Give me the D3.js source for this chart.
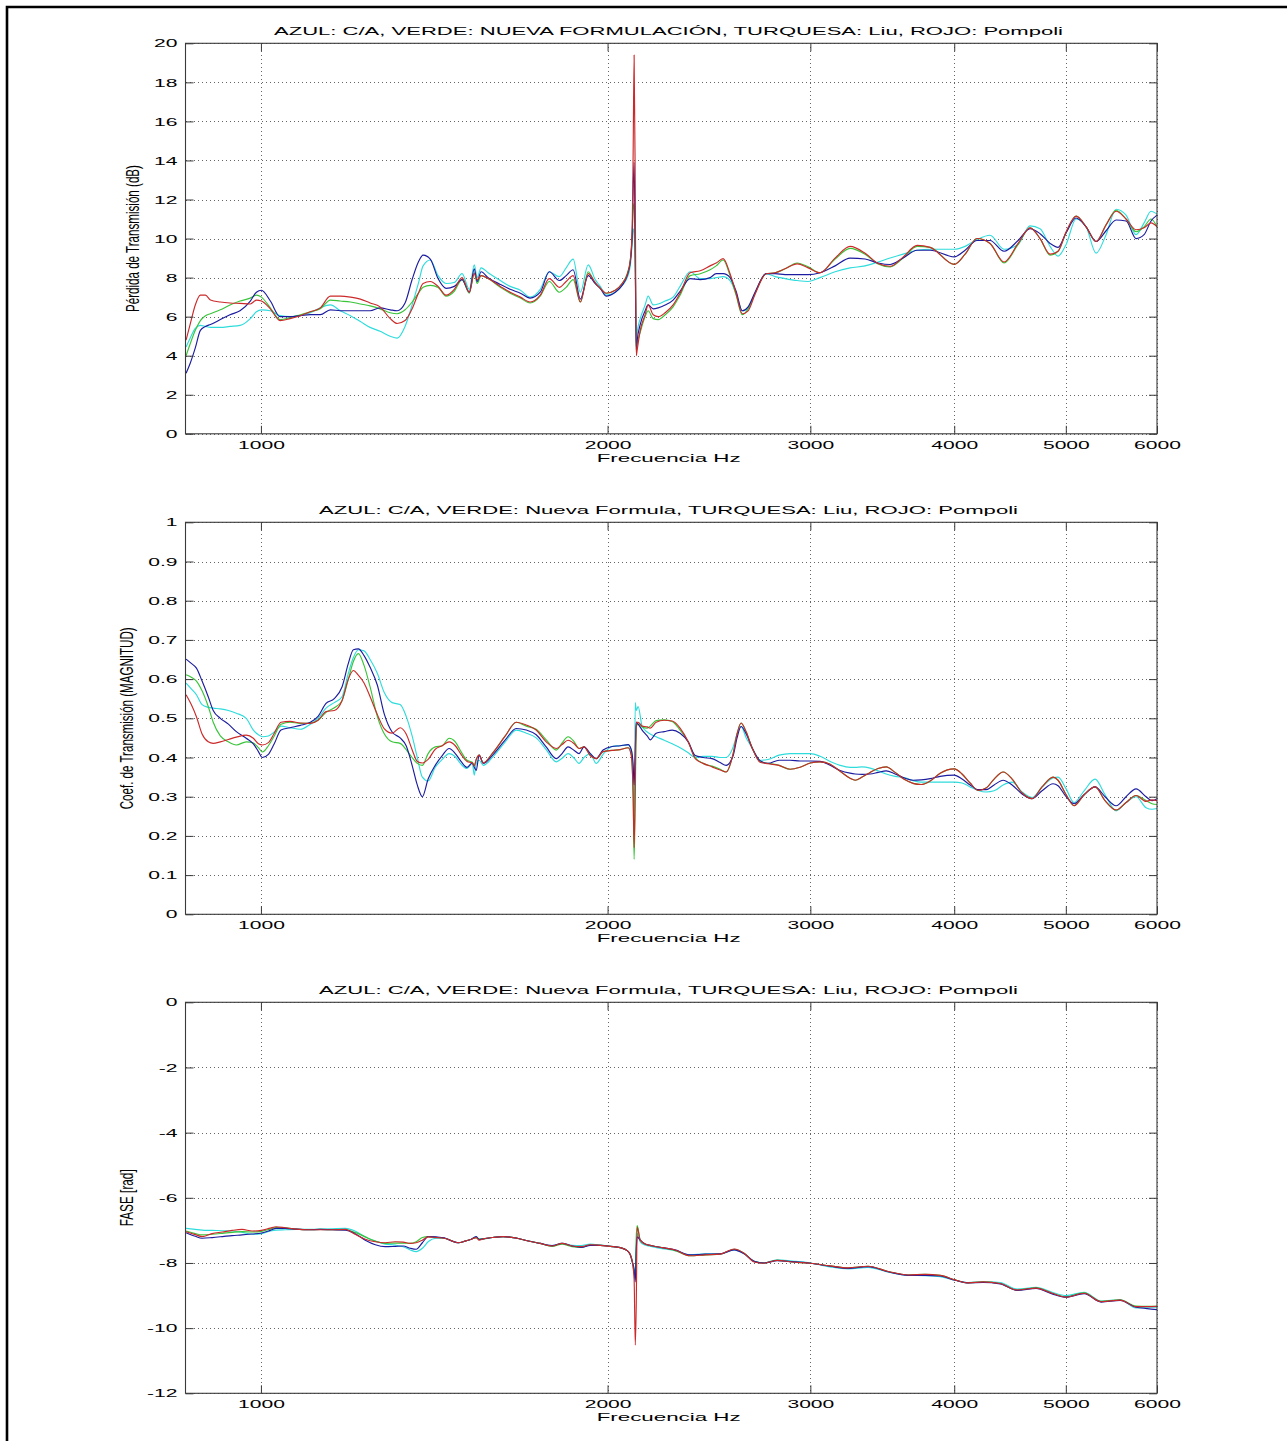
<!DOCTYPE html>
<html><head><meta charset="utf-8">
<script src="https://cdn.jsdelivr.net/npm/d3@7"></script>
<style>body{margin:0;background:#fff}svg{display:block}</style>
</head><body><svg id="c" width="1287" height="1441"></svg>
<script>
// ---------------- DATA ----------------
const titles = [
  "AZUL: C/A, VERDE: NUEVA FORMULACIÓN, TURQUESA: Liu, ROJO: Pompoli",
  "AZUL: C/A, VERDE: Nueva Formula, TURQUESA: Liu, ROJO: Pompoli",
  "AZUL: C/A, VERDE: Nueva Formula, TURQUESA: Liu, ROJO: Pompoli"
];
const yLabels = ["Pérdida de Transmisión (dB)", "Coef. de Transmisión (MAGNITUD)", "FASE [rad]"];
const xLabel = "Frecuencia Hz";
const xTicks = [1000, 2000, 3000, 4000, 5000, 6000];
const tlTicks = [0, 2, 4, 6, 8, 10, 12, 14, 16, 18, 20];
const magTicks = [0, 0.1, 0.2, 0.3, 0.4, 0.5, 0.6, 0.7, 0.8, 0.9, 1];
const phTicks = [-12, -10, -8, -6, -4, -2, 0];

// Panel 1: Pérdida de Transmisión (dB)
const freqTL = [861,868,877,886,895,904,922,940,959,979,991,1001,
1019,1039,1060,1082,1104,1126,1149,1172,1196,1220,1244,1269,1295,
1313,1334,1353,1370,1383,1403,1425,1448,1472,1495,1517,1532,1541,1553,1575,
1614,1646,1680,1713,1748,1780,1816,1841,1867,1894,1924,1951,1971,1994,
2031,2059,2080,2093,2101,2105,2109,2114,2118,2122,
2135,2156,2169,2191,2213,2244,2280,
2312,2359,2407,2455,2485,2520,2555,2586,2618,2649,2686,2746,2796,2852,2922,2987,3059,
3152,3248,3347,3435,3519,3611,3714,3812,4000,4088,4187,4297,4419,4545,4655,4749,4845,4923,5003,5104,5207,5312,5419,5529,5640,5754,5847,5929,6000];
const tlBlue = [3.1,3.6,4.4,5.3,5.5,5.6,5.85,6.1,6.3,6.8,7.25,7.35,
6.8,6.0,6.0,6.05,6.1,6.1,6.35,6.3,6.3,6.3,6.3,6.45,6.35,
6.3,6.7,7.9,8.8,9.15,8.95,7.95,7.45,7.55,7.9,7.25,8.45,7.8,8.3,8.0,
7.65,7.4,7.2,6.95,7.25,8.3,7.85,8.1,8.4,6.9,8.1,7.7,7.45,7.05,
7.25,7.6,8.1,8.8,10.2,12.5,13.9,9.0,4.3,4.8,
5.6,6.3,6.6,6.4,6.45,6.6,6.85,
7.3,7.95,7.9,8.0,8.2,8.2,8.0,7.3,6.3,6.5,7.25,8.2,8.2,8.15,8.15,8.15,8.25,
8.6,9.0,8.95,8.75,8.67,9.0,9.4,9.4,9.06,9.4,9.9,9.9,9.35,9.9,10.5,10.25,9.75,9.55,10.3,11.05,10.6,9.85,10.4,10.95,10.9,10.0,10.2,10.9,11.2];
const tlGreen = [4.0,4.6,5.3,5.8,6.05,6.15,6.35,6.6,6.8,6.95,7.1,7.0,
6.45,5.85,5.95,6.1,6.25,6.4,6.85,6.8,6.75,6.65,6.55,6.4,6.2,
6.15,6.35,6.75,7.2,7.5,7.6,7.5,7.05,7.3,7.9,7.2,8.25,7.7,8.1,7.95,
7.5,7.2,6.95,6.7,7.05,7.8,7.25,7.5,7.9,6.75,8.3,7.7,7.45,7.2,
7.35,7.7,8.2,8.9,10.2,11.5,11.8,8.5,4.2,4.6,
5.2,6.0,6.3,5.9,5.85,6.1,6.5,
7.1,8.1,8.2,8.4,8.6,8.9,8.1,7.1,6.1,6.4,7.2,8.2,8.25,8.45,8.75,8.55,8.25,
8.95,9.5,9.2,8.7,8.55,9.0,9.6,9.55,8.68,9.2,10.0,9.75,8.75,9.7,10.55,10.0,9.15,9.35,10.3,11.15,10.6,9.85,10.7,11.45,11.0,10.35,10.6,11.0,10.6];
const tlCyan = [4.45,4.9,5.4,5.55,5.5,5.45,5.45,5.5,5.55,5.9,6.25,6.35,
6.3,6.05,6.0,6.05,6.2,6.45,6.6,6.3,6.05,5.75,5.45,5.25,5.0,
4.9,5.5,6.6,7.7,8.6,8.9,8.1,7.7,7.75,8.2,7.4,8.65,8.0,8.5,8.25,
7.85,7.55,7.35,7.0,7.4,8.3,8.05,8.5,8.95,7.25,8.65,7.9,7.55,7.1,
7.25,7.6,8.0,8.6,9.8,10.5,10.3,8.0,4.5,5.2,
5.9,6.6,7.05,6.6,6.65,6.8,7.0,
7.55,8.3,7.95,7.95,8.0,8.05,7.85,7.2,6.3,6.4,7.2,8.2,8.05,7.95,7.85,7.8,8.0,
8.3,8.5,8.6,8.8,9.0,9.2,9.4,9.45,9.45,9.6,9.95,10.17,9.45,9.7,10.65,10.5,9.6,9.1,9.7,11.0,10.6,9.25,10.2,11.5,11.2,10.2,10.8,11.4,11.25];
const tlRed = [4.8,5.6,6.6,7.1,7.1,6.85,6.75,6.7,6.68,6.65,6.85,6.8,
6.4,5.8,5.9,6.05,6.25,6.45,7.05,7.05,7.0,6.9,6.7,6.5,5.9,
5.65,5.8,6.4,7.2,7.7,7.8,7.55,7.1,7.4,8.0,7.25,8.2,7.9,8.1,7.95,
7.55,7.25,7.0,6.75,7.1,7.95,7.5,7.8,8.1,6.75,8.2,7.75,7.45,7.2,
7.35,7.7,8.15,8.9,10.5,14.5,19.4,12.0,4.0,4.3,
5.3,6.1,6.6,6.1,6.0,6.2,6.6,
7.2,8.25,8.35,8.6,8.75,8.97,8.2,7.2,6.15,6.3,7.15,8.2,8.25,8.45,8.7,8.5,8.25,
9.0,9.6,9.25,8.72,8.58,9.05,9.65,9.55,8.68,9.2,10.0,9.75,8.8,9.75,10.55,10.0,9.2,9.35,10.35,11.15,10.6,9.85,10.7,11.4,11.0,10.45,10.55,10.8,10.6];

// Panel 2: Coef. de Transmisión (MAGNITUD)
const freqMag = [861,870,879,889,900,909,922,937,952,971,985,995,1003,
1015,1027,1041,1060,1082,1104,1121,1139,1158,1176,1191,1203,1215,1229,1244,1262,1280,1300,1321,
1337,1353,1367,1381,1397,1417,1437,1457,1475,1492,1510,1526,1532,1538,1547,1560,1588,
1630,1666,1700,1734,1769,1805,1826,1848,1871,1889,1908,1932,1955,1982,
2018,2051,2084,2097,2105,2109,2114,2118,2126,2143,2165,2178,
2204,2240,2276,2312,2350,2383,2421,2465,2505,2535,2571,2591,2612,2639,2670,
2713,2757,2818,2881,2939,3000,3059,3121,3184,3248,
3281,3327,3381,3435,3491,3554,3626,3684,3744,3812,3889,4000,
4063,4129,4196,4263,4332,4411,4491,4581,4674,4768,4874,4923,
5003,5083,5186,5301,5408,5529,5640,5754,5870,5941,6000];
const magBlue = [0.651,0.64,0.628,0.595,0.555,0.52,0.5,0.485,0.466,0.449,0.435,0.415,0.4,
0.408,0.435,0.47,0.476,0.482,0.49,0.505,0.538,0.55,0.58,0.64,0.675,0.677,0.66,0.63,0.585,0.51,0.465,0.45,
0.43,0.38,0.33,0.3,0.345,0.38,0.405,0.423,0.41,0.39,0.375,0.386,0.375,0.367,0.406,0.385,0.405,
0.445,0.474,0.47,0.458,0.427,0.397,0.41,0.427,0.418,0.41,0.427,0.41,0.397,0.419,
0.428,0.43,0.433,0.42,0.38,0.33,0.42,0.49,0.485,0.47,0.455,0.445,
0.462,0.466,0.47,0.462,0.44,0.405,0.4,0.397,0.387,0.38,0.405,0.45,0.479,0.46,0.425,
0.392,0.385,0.393,0.393,0.391,0.391,0.39,0.38,0.367,0.36,
0.358,0.357,0.358,0.362,0.366,0.358,0.347,0.342,0.343,0.346,0.352,0.355,
0.345,0.33,0.318,0.318,0.33,0.342,0.33,0.307,0.295,0.315,0.333,0.328,
0.3,0.282,0.305,0.325,0.3,0.277,0.3,0.32,0.3,0.29,0.295];
const magGreen = [0.611,0.605,0.595,0.57,0.53,0.49,0.455,0.44,0.432,0.44,0.437,0.425,0.414,
0.43,0.455,0.485,0.49,0.487,0.488,0.495,0.515,0.527,0.545,0.6,0.645,0.665,0.635,0.58,0.505,0.46,0.44,0.436,
0.42,0.4,0.385,0.38,0.41,0.427,0.43,0.449,0.44,0.415,0.393,0.388,0.38,0.395,0.406,0.386,0.41,
0.455,0.49,0.48,0.472,0.445,0.419,0.437,0.453,0.44,0.423,0.427,0.405,0.397,0.415,
0.418,0.42,0.425,0.41,0.3,0.14,0.3,0.48,0.485,0.478,0.475,0.48,
0.494,0.496,0.492,0.47,0.44,0.4,0.385,0.378,0.37,0.363,0.41,0.46,0.488,0.465,0.425,
0.39,0.385,0.38,0.37,0.375,0.386,0.389,0.383,0.365,0.347,
0.342,0.35,0.362,0.372,0.376,0.362,0.343,0.334,0.331,0.34,0.36,0.371,
0.358,0.335,0.316,0.322,0.345,0.363,0.345,0.31,0.295,0.325,0.35,0.342,
0.305,0.277,0.305,0.325,0.29,0.266,0.285,0.303,0.29,0.282,0.28];
const magCyan = [0.59,0.575,0.56,0.535,0.528,0.526,0.524,0.52,0.513,0.5,0.47,0.458,0.453,
0.455,0.465,0.48,0.476,0.472,0.485,0.5,0.526,0.54,0.555,0.615,0.655,0.675,0.672,0.65,0.615,0.565,0.54,0.535,
0.505,0.455,0.4,0.35,0.34,0.375,0.395,0.41,0.402,0.383,0.372,0.385,0.355,0.385,0.393,0.38,0.4,
0.44,0.47,0.462,0.45,0.42,0.389,0.398,0.41,0.398,0.385,0.4,0.41,0.385,0.408,
0.428,0.43,0.432,0.42,0.36,0.25,0.54,0.52,0.53,0.48,0.465,0.46,
0.453,0.444,0.435,0.425,0.412,0.4,0.403,0.403,0.4,0.4,0.427,0.46,0.479,0.45,0.425,
0.393,0.395,0.406,0.41,0.41,0.41,0.403,0.39,0.38,0.375,
0.375,0.376,0.373,0.366,0.358,0.352,0.348,0.341,0.337,0.337,0.337,0.337,
0.335,0.325,0.316,0.312,0.315,0.33,0.337,0.312,0.298,0.325,0.348,0.35,
0.32,0.285,0.315,0.345,0.305,0.264,0.285,0.3,0.272,0.268,0.27];
const magRed = [0.56,0.535,0.504,0.46,0.44,0.436,0.44,0.446,0.452,0.457,0.449,0.435,0.432,
0.438,0.462,0.49,0.492,0.488,0.487,0.495,0.517,0.52,0.545,0.6,0.622,0.61,0.59,0.555,0.51,0.473,0.462,0.476,
0.46,0.42,0.39,0.386,0.395,0.421,0.43,0.44,0.43,0.408,0.39,0.386,0.378,0.395,0.406,0.386,0.41,
0.455,0.49,0.483,0.47,0.44,0.423,0.433,0.444,0.435,0.423,0.427,0.405,0.397,0.415,
0.418,0.42,0.425,0.405,0.3,0.17,0.35,0.49,0.49,0.48,0.478,0.475,
0.49,0.495,0.493,0.475,0.44,0.397,0.385,0.376,0.368,0.363,0.41,0.46,0.488,0.465,0.425,
0.388,0.384,0.38,0.37,0.375,0.386,0.389,0.383,0.365,0.347,
0.342,0.35,0.362,0.372,0.376,0.362,0.343,0.334,0.331,0.34,0.36,0.371,
0.358,0.335,0.316,0.322,0.345,0.363,0.345,0.31,0.295,0.325,0.35,0.342,
0.305,0.277,0.305,0.325,0.29,0.266,0.285,0.303,0.288,0.292,0.29];

// Panel 3: FASE [rad]
const freqPh = [861,877,889,907,926,944,963,983,1001,
1019,1031,1050,1073,1099,1126,1153,1184,
1207,1232,1257,1282,1308,1329,1348,1364,1381,1397,
1420,1443,1466,1484,1504,1523,1538,1547,1560,1588,1623,
1663,1703,1748,1790,1826,1863,1897,1932,1971,2011,2051,2080,
2093,2101,2109,2114,2118,2122,2135,2156,
2186,2231,2289,2359,2431,2505,2576,2628,2681,2735,2807,2893,
3000,3121,3235,3367,3505,3648,3774,3889,4007,4112,4238,4385,
4536,4712,4865,5003,5186,5366,5573,5754,5882,6000];
const phBlue = [-7.07,-7.18,-7.24,-7.22,-7.19,-7.16,-7.14,-7.11,-7.08,
-7.0,-6.94,-6.94,-6.96,-6.98,-6.97,-6.98,-6.99,
-7.1,-7.3,-7.44,-7.5,-7.49,-7.48,-7.55,-7.58,-7.38,-7.19,
-7.2,-7.23,-7.33,-7.38,-7.33,-7.27,-7.19,-7.28,-7.26,-7.22,-7.19,
-7.23,-7.32,-7.4,-7.47,-7.4,-7.48,-7.52,-7.46,-7.46,-7.49,-7.53,-7.62,
-7.75,-7.95,-8.2,-8.58,-7.6,-7.2,-7.3,-7.42,
-7.47,-7.53,-7.6,-7.75,-7.73,-7.72,-7.6,-7.72,-7.95,-8.0,-7.93,-7.96,
-8.01,-8.1,-8.17,-8.11,-8.27,-8.38,-8.38,-8.4,-8.53,-8.61,-8.6,-8.64,
-8.84,-8.78,-8.95,-9.05,-8.94,-9.2,-9.15,-9.36,-9.4,-9.43];
const phGreen = [-7.02,-7.1,-7.14,-7.12,-7.09,-7.06,-7.04,-7.05,-7.03,
-6.96,-6.91,-6.92,-6.96,-6.98,-6.97,-6.98,-6.98,
-7.06,-7.2,-7.33,-7.4,-7.39,-7.39,-7.4,-7.35,-7.22,-7.19,
-7.22,-7.24,-7.33,-7.38,-7.33,-7.27,-7.22,-7.27,-7.26,-7.22,-7.19,
-7.23,-7.32,-7.4,-7.49,-7.42,-7.5,-7.52,-7.45,-7.46,-7.49,-7.53,-7.62,
-7.75,-7.95,-8.3,-8.5,-7.2,-6.85,-7.3,-7.42,
-7.47,-7.53,-7.62,-7.78,-7.75,-7.73,-7.58,-7.7,-7.95,-8.0,-7.92,-7.97,
-8.01,-8.09,-8.15,-8.1,-8.26,-8.37,-8.35,-8.38,-8.52,-8.61,-8.58,-8.63,
-8.83,-8.76,-8.93,-9.04,-8.92,-9.18,-9.13,-9.32,-9.33,-9.33];
const phCyan = [-6.94,-6.97,-6.99,-7.0,-7.01,-7.02,-7.06,-7.12,-7.1,
-7.02,-6.99,-6.98,-6.97,-6.97,-6.96,-6.95,-6.94,
-7.02,-7.2,-7.33,-7.42,-7.45,-7.5,-7.6,-7.65,-7.55,-7.35,
-7.24,-7.24,-7.33,-7.38,-7.33,-7.27,-7.2,-7.27,-7.26,-7.22,-7.19,
-7.23,-7.32,-7.4,-7.47,-7.4,-7.46,-7.47,-7.42,-7.45,-7.49,-7.53,-7.62,
-7.75,-7.95,-8.2,-8.3,-7.5,-7.1,-7.35,-7.45,
-7.5,-7.56,-7.62,-7.75,-7.72,-7.72,-7.6,-7.72,-7.95,-8.0,-7.9,-7.94,
-8.0,-8.12,-8.18,-8.14,-8.28,-8.38,-8.39,-8.42,-8.53,-8.6,-8.57,-8.6,
-8.8,-8.75,-8.9,-9.0,-8.9,-9.17,-9.13,-9.38,-9.36,-9.36];
const phRed = [-7.04,-7.13,-7.19,-7.1,-7.05,-7.0,-6.97,-7.02,-7.0,
-6.93,-6.89,-6.92,-6.96,-6.98,-6.98,-6.98,-6.97,
-7.12,-7.27,-7.35,-7.38,-7.35,-7.36,-7.4,-7.38,-7.3,-7.2,
-7.22,-7.24,-7.33,-7.38,-7.33,-7.27,-7.22,-7.3,-7.26,-7.22,-7.19,
-7.23,-7.32,-7.4,-7.48,-7.4,-7.48,-7.5,-7.44,-7.46,-7.49,-7.53,-7.62,
-7.75,-7.95,-8.5,-10.52,-9.3,-6.9,-7.3,-7.42,
-7.47,-7.53,-7.6,-7.78,-7.75,-7.73,-7.57,-7.7,-7.97,-8.01,-7.92,-7.97,
-8.01,-8.09,-8.15,-8.1,-8.26,-8.37,-8.35,-8.38,-8.52,-8.61,-8.58,-8.63,
-8.83,-8.77,-8.93,-9.05,-8.93,-9.19,-9.14,-9.34,-9.34,-9.33];

// ---------------- DRAWING ----------------
const colors = {cyan:"#2fdcdc", green:"#39c439", blue:"#1c1ca0", red:"#cc2a2a"};
const svg = d3.select("#c");
svg.append("rect").attr("width",1287).attr("height",1441).attr("fill","#fff");
svg.append("path").attr("d","M7,1450V7H1295").attr("fill","none").attr("stroke","#000").attr("stroke-width",2.6);

const X0 = 185.5, X1 = 1157;
const x = d3.scaleLog().domain([860, 6000]).range([X0, X1]);
const FONT = "'Liberation Sans', Arial, Helvetica, sans-serif";

const panels = [
  {top:43.3, bottom:433.8, dom:[0,20], ticks:tlTicks, fmt:d=>String(d), title:titles[0], titleLen:789,
   ylab:yLabels[0], ylabX:139.3, ylabLen:147, freq:freqTL,
   series:[["cyan",tlCyan],["green",tlGreen],["blue",tlBlue],["red",tlRed]]},
  {top:522.3, bottom:914.3, dom:[0,1], ticks:magTicks, fmt:d=>String(d), title:titles[1], titleLen:699,
   ylab:yLabels[1], ylabX:133.3, ylabLen:182, freq:freqMag,
   series:[["cyan",magCyan],["green",magGreen],["blue",magBlue],["red",magRed]]},
  {top:1002.3, bottom:1393.3, dom:[-12,0], ticks:phTicks, fmt:d=>String(d), title:titles[2], titleLen:699,
   ylab:yLabels[2], ylabX:132.6, ylabLen:57, freq:freqPh,
   series:[["cyan",phCyan],["green",phGreen],["blue",phBlue],["red",phRed]]}
];

function stretch(sel, k){
  sel.each(function(){
    const w = this.getComputedTextLength();
    d3.select(this).attr("textLength", (w*k).toFixed(2)).attr("lengthAdjust","spacingAndGlyphs");
  });
}

panels.forEach((p, i) => {
  const y = d3.scaleLinear().domain(p.dom).range([p.bottom, p.top]);
  const g = svg.append("g");

  // grid
  const grid = g.append("g").attr("stroke","#666").attr("stroke-width",1)
    .attr("stroke-dasharray","1,3").attr("shape-rendering","crispEdges");
  grid.selectAll("line.gx").data(xTicks).join("line")
    .attr("x1",d=>Math.round(x(d))+0.5).attr("x2",d=>Math.round(x(d))+0.5)
    .attr("y1",p.top).attr("y2",p.bottom);
  grid.selectAll("line.gy").data(p.ticks).join("line")
    .attr("x1",X0).attr("x2",X1)
    .attr("y1",d=>Math.round(y(d))+0.5).attr("y2",d=>Math.round(y(d))+0.5);

  // curves
  const cid = "clip"+i;
  svg.append("clipPath").attr("id",cid).append("rect")
    .attr("x",X0).attr("y",p.top).attr("width",X1-X0).attr("height",p.bottom-p.top);
  const line = d3.line().x(d=>x(d[0])).y(d=>y(d[1])).curve(d3.curveMonotoneX);
  const cg = g.append("g").attr("clip-path",`url(#${cid})`);
  p.series.forEach(([name, vals]) => {
    const pts = p.freq.map((f,j)=>[f, vals[j]]);
    cg.append("path").attr("d", line(pts)).attr("fill","none")
      .attr("stroke", colors[name]).attr("stroke-width",1.15).attr("stroke-linejoin","round");
  });

  // axes (inner ticks)
  const axColor = "#3a3a3a";
  const bottom = g.append("g").attr("transform",`translate(0,${p.bottom})`)
    .call(d3.axisBottom(x).tickValues(xTicks).tickFormat(d3.format("d")).tickSizeInner(-8).tickSizeOuter(0).tickPadding(7));
  const top = g.append("g").attr("transform",`translate(0,${p.top})`)
    .call(d3.axisTop(x).tickValues(xTicks).tickFormat("").tickSizeInner(-8).tickSizeOuter(0));
  const left = g.append("g").attr("transform",`translate(${X0},0)`)
    .call(d3.axisLeft(y).tickValues(p.ticks).tickFormat(p.fmt).tickSizeInner(-8).tickSizeOuter(0).tickPadding(8));
  const right = g.append("g").attr("transform",`translate(${X1},0)`)
    .call(d3.axisRight(y).tickValues(p.ticks).tickFormat("").tickSizeInner(-8).tickSizeOuter(0));
  [bottom, top, left, right].forEach(a => {
    a.select(".domain").remove();
    a.selectAll(".tick line").attr("stroke",axColor).attr("stroke-width",1);
    a.selectAll(".tick text").attr("fill","#000").style("font-family",FONT).style("font-size","11.5px");
  });
  stretch(bottom.selectAll(".tick text"), 1.83);
  stretch(left.selectAll(".tick text"), 1.83);

  // box
  g.append("rect").attr("x",X0).attr("y",p.top).attr("width",X1-X0).attr("height",p.bottom-p.top)
    .attr("fill","none").attr("stroke",axColor).attr("stroke-width",1.1);

  // title
  g.append("text").attr("x",668.5).attr("y",p.top-8.8).attr("text-anchor","middle")
    .style("font-family",FONT).style("font-size","11.5px").attr("fill","#000")
    .attr("textLength",p.titleLen).attr("lengthAdjust","spacingAndGlyphs").text(p.title);

  // x label
  g.append("text").attr("x",668.7).attr("y",p.bottom+27.8).attr("text-anchor","middle")
    .style("font-family",FONT).style("font-size","11.5px").attr("fill","#000")
    .attr("textLength",144).attr("lengthAdjust","spacingAndGlyphs").text(xLabel);

  // y label
  g.append("text").attr("transform",`translate(${p.ylabX},${(p.top+p.bottom)/2}) rotate(-90)`)
    .attr("text-anchor","middle").style("font-family",FONT).style("font-size","19px").attr("fill","#000")
    .attr("textLength",p.ylabLen).attr("lengthAdjust","spacingAndGlyphs").text(p.ylab);
});
</script></body></html>
